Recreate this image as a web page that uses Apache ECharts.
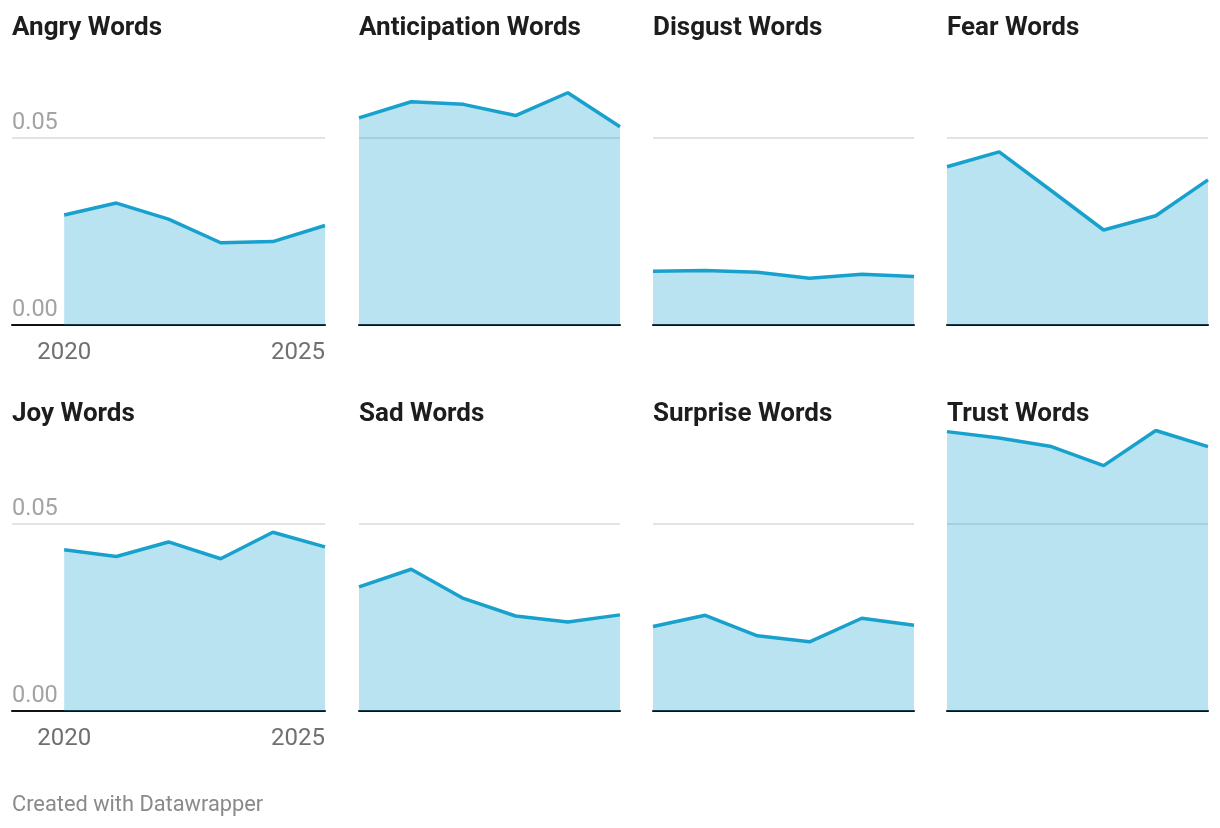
<!DOCTYPE html>
<html>
<head>
<meta charset="utf-8">
<script src="https://cdn.jsdelivr.net/npm/echarts@6/dist/echarts.min.js"></script>
<style>
html,body{margin:0;padding:0;background:#fff;}
#c{width:1220px;height:828px;}
</style>
</head>
<body>
<div id="c"></div>
<script>
const years = [2020, 2021, 2022, 2023, 2024, 2025];
const xTickLabels = [2020, 2025];
const yTickLabels = [0, 0.05];
const panelTitles = ["Angry Words", "Anticipation Words", "Disgust Words", "Fear Words",
                     "Joy Words", "Sad Words", "Surprise Words", "Trust Words"];
const angry        = [0.0294, 0.0326, 0.0283, 0.0220, 0.0223, 0.0266];
const anticipation = [0.0554, 0.0597, 0.0590, 0.0560, 0.0621, 0.0530];
const disgust      = [0.0144, 0.0146, 0.0141, 0.0125, 0.0136, 0.0130];
const fear         = [0.0423, 0.0463, 0.0359, 0.0254, 0.0292, 0.0388];
const joy          = [0.0431, 0.0413, 0.0452, 0.0407, 0.0478, 0.0439];
const sad          = [0.0332, 0.0379, 0.0301, 0.0254, 0.0238, 0.0257];
const surprise     = [0.0226, 0.0256, 0.0201, 0.0185, 0.0248, 0.0229];
const trust        = [0.0747, 0.0730, 0.0707, 0.0656, 0.0750, 0.0707];
const seriesValues = [angry, anticipation, disgust, fear, joy, sad, surprise, trust];
const footer = "Created with Datawrapper";

const FONT = "Roboto";
const colLeft = [12, 359, 653, 947];
const colWidth = [313, 261, 261, 261];
const rowBottom = [325, 711];
const plotH = 280.5;
const yMax = 0.075;

const grids = [], xAxes = [], yAxes = [], series = [], titles = [];
for (let i = 0; i < 8; i++) {
  const r = Math.floor(i / 4), c = i % 4;
  const first = c === 0;
  grids.push({
    left: colLeft[c], top: rowBottom[r] - plotH,
    width: colWidth[c], height: plotH, containLabel: false
  });
  xAxes.push({
    type: 'value', gridIndex: i,
    min: first ? 2019 : 2020, max: 2025, interval: 1,
    axisLine: {show: true, onZero: false, lineStyle: {color: '#111', width: 2}},
    axisTick: {show: false},
    splitLine: {show: false},
    axisLabel: {
      show: first,
      formatter: v => xTickLabels.includes(v) ? String(v) : '',
      color: '#707070', fontFamily: FONT, fontSize: 24, margin: 16,
      alignMaxLabel: 'right', showMinLabel: false
    }
  });
  yAxes.push({
    type: 'value', gridIndex: i, min: 0, max: yMax, interval: 0.05,
    axisLine: {show: false}, axisTick: {show: false},
    splitLine: {show: true, showMinLine: false, showMaxLine: false,
                lineStyle: {color: '#e3e3e3', width: 2}},
    axisLabel: {
      show: first, inside: true, margin: 0,
      formatter: v => yTickLabels.includes(v) ? v.toFixed(2) : '',
      showMaxLabel: false,
      color: '#a3a3a3', fontFamily: FONT, fontSize: 23.5,
      verticalAlign: 'bottom', lineHeight: 30
    }
  });
  series.push({
    type: 'line', xAxisIndex: i, yAxisIndex: i,
    data: years.map((y, k) => [y, seriesValues[i][k]]),
    symbol: 'none', silent: true,
    lineStyle: {color: '#18a1cd', width: 3.5},
    areaStyle: {color: '#18a1cd', opacity: 0.3, origin: 'start'},
    z: 3
  });
  titles.push({
    text: panelTitles[i], left: colLeft[c], top: (r === 0 ? 15 : 401), padding: 0,
    textStyle: {fontFamily: FONT, fontWeight: 700, fontSize: 26, color: '#1d1d1d'}
  });
}
titles.push({
  text: footer, left: 12, top: 795, padding: 0,
  textStyle: {fontFamily: FONT, fontWeight: 400, fontSize: 21.8, color: '#8a8a8a'}
});

const chart = echarts.init(document.getElementById('c'), null, {renderer: 'canvas'});
chart.setOption({
  animation: false,
  backgroundColor: '#fff',
  title: titles,
  grid: grids, xAxis: xAxes, yAxis: yAxes, series: series
});
</script>
</body>
</html>
